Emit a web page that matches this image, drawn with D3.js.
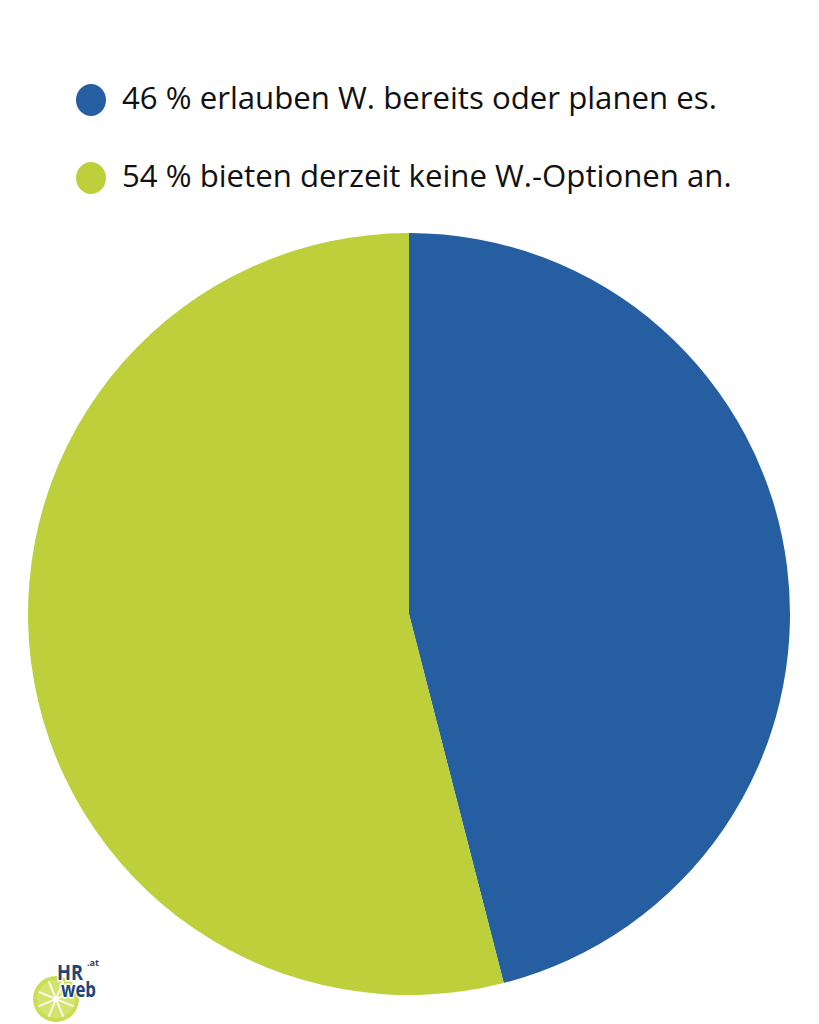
<!DOCTYPE html>
<html><head><meta charset="utf-8">
<script src="https://cdn.jsdelivr.net/npm/d3@7"></script>
<style>body{margin:0;background:#fff}svg{display:block}</style>
</head><body>
<svg id="c" width="819" height="1024"></svg>
<script>
const categories = ["46 % erlauben W. bereits oder planen es.", "54 % bieten derzeit keine W.-Optionen an."];
const values = [46, 54];
const colors = ["#255EA1", "#BDD03B"];

const svg = d3.select("#c");
svg.append("rect").attr("width",819).attr("height",1024).attr("fill","#fff");

// legend
const leg = svg.append("g");
categories.forEach((c,i)=>{
  const y = 100 + i*78;
  leg.append("ellipse").attr("cx",91).attr("cy",y).attr("rx",15).attr("ry",16).attr("fill",colors[i]);
  leg.append("text").attr("x",122).attr("y",y+9).attr("font-family","Open Sans").attr("font-size",31.2)
    .attr("fill","#111").text(c);
});

// pie
const cx = 409, cy = 614, r = 381;
const pie = d3.pie().sort(null).value(d=>d);
const arc = d3.arc().innerRadius(0).outerRadius(r);
svg.append("g").attr("transform",`translate(${cx},${cy})`)
  .selectAll("path").data(pie(values)).join("path")
  .attr("d",arc).attr("fill",(d,i)=>colors[i]);

// logo
const lg = svg.append("g").attr("transform","translate(56,999)");
const lr = 23;
lg.append("circle").attr("r",lr).attr("fill","#C9DD55");
lg.append("circle").attr("r",lr-4).attr("fill","#D3E56E");
for(let k=0;k<8;k++){
  const a = k*Math.PI/4 + Math.PI/8;
  lg.append("line").attr("x1",0).attr("y1",0).attr("x2",(lr-4)*Math.cos(a)).attr("y2",(lr-4)*Math.sin(a))
    .attr("stroke","#fff").attr("stroke-width",1.8);
}
lg.append("circle").attr("r",2.5).attr("fill","#fff");
const t = svg.append("g").attr("font-family","Open Sans").attr("font-weight",700).attr("fill","#1F4477")
  .attr("stroke","#fff").attr("stroke-width",3).attr("paint-order","stroke").attr("stroke-linejoin","round");
t.append("text").attr("x",57).attr("y",980).attr("font-size",21).attr("textLength",26).attr("lengthAdjust","spacingAndGlyphs").text("HR");
t.append("text").attr("x",87).attr("y",966).attr("font-size",9).attr("stroke-width",0).text(".at");
t.append("text").attr("x",61).attr("y",997).attr("font-size",22).attr("textLength",35).attr("lengthAdjust","spacingAndGlyphs").text("web");
</script>
</body></html>
